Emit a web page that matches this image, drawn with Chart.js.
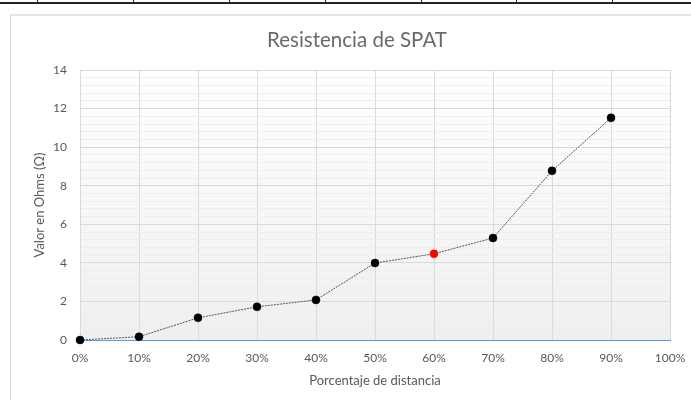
<!DOCTYPE html>
<html>
<head>
<meta charset="utf-8">
<script src="https://cdn.jsdelivr.net/npm/chart.js@4"></script>
<style>
  body { margin: 0; background: #fff; width: 691px; height: 400px; overflow: hidden; position: relative; }
  .row { position: absolute; left: 0; top: 2px; width: 691px; height: 2px; background: #222; }
  .cell { position: absolute; top: 0; width: 1px; height: 4px; background: #222; }
  .box { position: absolute; left: 10px; top: 14px; width: 690px; height: 400px; border-left: 1px solid #d9d9d9; border-top: 2px solid #e4e4e4; }
  #wrap { position: absolute; left: 11px; top: 16px; width: 680px; height: 384px; }
</style>
</head>
<body>
<div class="row"></div>
<div class="cell" style="left:37px"></div>
<div class="cell" style="left:133px"></div>
<div class="cell" style="left:229px"></div>
<div class="cell" style="left:325px"></div>
<div class="cell" style="left:421px"></div>
<div class="cell" style="left:516px"></div>
<div class="cell" style="left:612px"></div>
<div class="box"></div>
<div id="wrap"><canvas id="spatChart" width="680" height="384"></canvas></div>
<script>
// data
let distancia = [0, 10, 20, 30, 40, 50, 60, 70, 80, 90]
let resistencia = [0, 0.17, 1.15, 1.72, 2.08, 3.99, 4.47, 5.29, 8.77, 11.52]
let puntoColor = ['black', 'black', 'black', 'black', 'black', 'black', 'red', 'black', 'black', 'black']

const isMajor = (v) => Math.abs(v / 2 - Math.round(v / 2)) < 1e-6

// plot area background, white to light gray
const fondo = {
    id: 'fondo',
    beforeDraw(chart) {
        const a = chart.chartArea
        const ctx = chart.ctx
        const g = ctx.createLinearGradient(0, a.top, 0, a.bottom)
        g.addColorStop(0, '#ffffff')
        g.addColorStop(1, '#efefef')
        ctx.save()
        ctx.fillStyle = g
        ctx.fillRect(a.left, a.top, a.right - a.left, a.bottom - a.top)
        ctx.restore()
    }
}

const ctx = document.getElementById('spatChart').getContext('2d')
const myChart = new Chart(ctx, {
    type: 'line',
    data: {
        datasets: [{
            data: distancia.map((d, i) => ({ x: d, y: resistencia[i] })),
            borderColor: '#555',
            borderWidth: 1,
            borderDash: [2, 1],
            fill: false,
            tension: 0,
            clip: false,
            pointRadius: 4,
            pointBackgroundColor: puntoColor,
            pointBorderColor: puntoColor,
            pointBorderWidth: 0.5
        }]
    },
    plugins: [fondo],
    options: {
        responsive: false,
        animation: false,
        layout: { padding: { left: 12, right: 0, top: 0, bottom: 0 } },
        plugins: {
            legend: { display: false },
            tooltip: { enabled: false },
            title: {
                display: true,
                text: 'Resistencia de SPAT',
                color: '#6a6a6a',
                font: { family: 'Lato', size: 20.5, weight: 'normal', lineHeight: 1.2 },
                padding: { top: 12, bottom: 17.4 }
            }
        },
        scales: {
            x: {
                type: 'linear',
                min: 0,
                max: 100,
                afterFit(s) { s.height = 60; s.paddingRight = 21; s.paddingLeft = 0 },
                ticks: {
                    stepSize: 10,
                    padding: 11,
                    color: '#595959',
                    font: { family: 'Lato', size: 12 },
                    callback: (v) => v + '%'
                },
                grid: { color: '#d9d9d9', drawTicks: false },
                border: { color: '#5b9bd5', width: 1 },
                title: {
                    display: true,
                    text: 'Porcentaje de distancia',
                    color: '#595959',
                    font: { family: 'Lato', size: 13 },
                    padding: { top: 0, bottom: 11 }
                }
            },
            y: {
                min: 0,
                max: 14,
                afterFit(s) { s.width = 57 },
                ticks: {
                    stepSize: 0.4,
                    autoSkip: false,
                    padding: 13,
                    color: '#595959',
                    font: { family: 'Lato', size: 12 },
                    callback: (v) => isMajor(v) ? Math.round(v) : ''
                },
                grid: {
                    drawTicks: false,
                    color: (c) => isMajor(c.tick.value) ? '#d9d9d9' : '#eeeeee'
                },
                border: { color: '#d9d9d9' },
                title: {
                    display: true,
                    text: 'Valor en Ohms (Ω)',
                    color: '#595959',
                    font: { family: 'Lato', size: 13 },
                    padding: { top: 9, bottom: 0 }
                }
            }
        }
    }
})
</script>
</body>
</html>
